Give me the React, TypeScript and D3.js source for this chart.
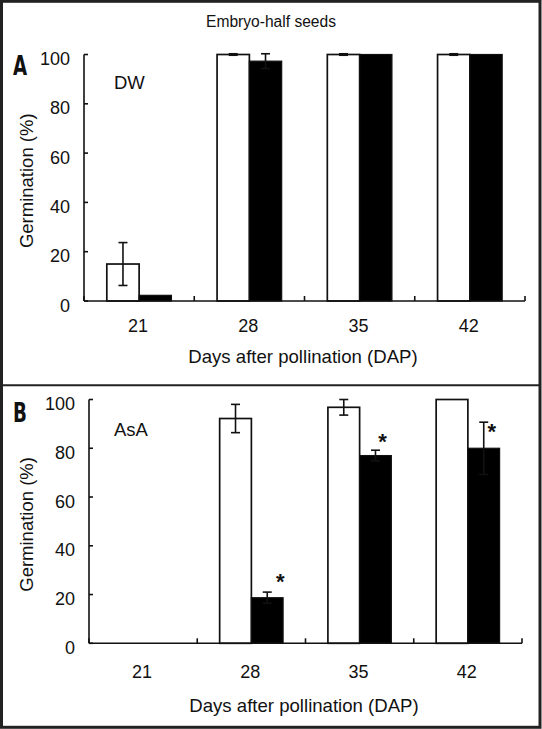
import React from "react";
import * as d3 from "d3";

// ---- data ----
const categories = ["21", "28", "35", "42"];
const yTicks = [0, 20, 40, 60, 80, 100];

const dwOpen = [15, 100, 100, 100];
const dwOpenErr = [8.7, 0.3, 0.3, 0.3];
const dwFilled = [2.3, 97.3, 100, 100];
const dwFilledErr = [0, 3, 0, 0];

const asaOpen = [0, 92.2, 96.8, 100];
const asaOpenErr = [0, 5.8, 3.2, 0];
const asaFilled = [0, 18.7, 77, 80];
const asaFilledErr = [0, 2.3, 2.2, 10.7];
const asaSignificant = [false, true, true, true];
const asaStarLevel = [0, 27.5, 85, 89];

const title = "Embryo-half seeds";
const xTitle = "Days after pollination (DAP)";
const yTitle = "Germination (%)";

const FONT = "'Liberation Sans', Arial, Helvetica, sans-serif";
const INK = "#111";

type PanelProps = {
  letter: string;
  tag: string;
  open: number[];
  openErr: number[];
  filled: number[];
  filledErr: number[];
  sig?: boolean[];
  starLevel?: number[];
  starDx?: number[];
  x0: number;
  x1: number;
  yTop: number;
  yBottom: number;
  tickBase: number;
  xTitleBase: number;
  letterBase: number;
  tagBase: number;
};

function ErrorBar({ cx, y1, y2 }: { cx: number; y1: number; y2: number }) {
  const cap = 4.5;
  return (
    <g stroke={INK} strokeWidth={1.6} fill="none">
      <line x1={cx} x2={cx} y1={y1} y2={y2} />
      <line x1={cx - cap} x2={cx + cap} y1={y1} y2={y1} />
      <line x1={cx - cap} x2={cx + cap} y1={y2} y2={y2} />
    </g>
  );
}

function Panel(p: PanelProps) {
  const x = d3.scaleBand<string>().domain(categories).range([p.x0, p.x1]).padding(0);
  const y = d3.scaleLinear().domain([0, 100]).range([p.yBottom, p.yTop]);
  const bw = x.bandwidth() * 0.293;
  const boundaries = [...categories.map((c) => x(c) as number), p.x1];
  const plotMidX = (p.x0 + p.x1) / 2;
  const plotMidY = (p.yTop + p.yBottom) / 2 + 3;

  return (
    <g>
      {/* bars */}
      {categories.map((c, i) => {
        const cx = (x(c) as number) + x.bandwidth() / 2;
        const els: React.ReactNode[] = [];
        if (p.open[i] > 0) {
          els.push(
            <rect
              key="o"
              x={cx - bw}
              y={y(p.open[i])}
              width={bw}
              height={y(0) - y(p.open[i])}
              fill="#fff"
              stroke={INK}
              strokeWidth={1.7}
            />
          );
        }
        if (p.filled[i] > 0) {
          els.push(
            <rect
              key="f"
              x={cx}
              y={y(p.filled[i])}
              width={bw}
              height={y(0) - y(p.filled[i])}
              fill="#000"
              stroke={INK}
              strokeWidth={1.2}
            />
          );
        }
        if (p.openErr[i] > 0) {
          els.push(
            <ErrorBar
              key="oe"
              cx={cx - bw / 2}
              y1={y(p.open[i] + p.openErr[i])}
              y2={y(p.open[i] - p.openErr[i])}
            />
          );
        }
        if (p.filledErr[i] > 0) {
          els.push(
            <ErrorBar
              key="fe"
              cx={cx + bw / 2}
              y1={y(p.filled[i] + p.filledErr[i])}
              y2={y(p.filled[i] - p.filledErr[i])}
            />
          );
        }
        if (p.sig && p.sig[i] && p.starLevel) {
          els.push(
            <text
              key="s"
              x={cx + bw / 2 + (p.starDx ? p.starDx[i] : 8)}
              y={y(p.starLevel[i]) + 12.5}
              textAnchor="middle"
              fontFamily={FONT}
              fontWeight="bold"
              fontSize={22}
              fill={INK}
            >
              *
            </text>
          );
        }
        return <g key={c}>{els}</g>;
      })}

      {/* axes */}
      <g stroke={INK} strokeWidth={1.6} fill="none">
        <line x1={p.x0} x2={p.x1} y1={y(0)} y2={y(0)} />
        <line x1={p.x0} x2={p.x0} y1={y(0)} y2={y(100)} />
        {yTicks.map((t) => (
          <line key={t} x1={p.x0} x2={p.x0 + 4} y1={y(t)} y2={y(t)} />
        ))}
        {boundaries.map((bx, i) => (
          <line key={i} x1={bx} x2={bx} y1={y(0)} y2={y(0) - 5} />
        ))}
      </g>

      {/* y tick labels */}
      {yTicks.map((t) => (
        <text
          key={t}
          x={p.x0 - 14}
          y={y(t) + 10.5}
          textAnchor="end"
          fontFamily={FONT}
          fontSize={18}
          fill={INK}
        >
          {t}
        </text>
      ))}

      {/* x tick labels */}
      {categories.map((c) => (
        <text
          key={c}
          x={(x(c) as number) + x.bandwidth() / 2 - 1}
          y={p.tickBase}
          textAnchor="middle"
          fontFamily={FONT}
          fontSize={18}
          fill={INK}
        >
          {c}
        </text>
      ))}

      {/* axis titles */}
      <text
        x={plotMidX - 1.5}
        y={p.xTitleBase}
        textAnchor="middle"
        fontFamily={FONT}
        fontSize={18.6}
        fill={INK}
      >
        {xTitle}
      </text>
      <text
        transform={`translate(33,${plotMidY}) rotate(-90)`}
        textAnchor="middle"
        fontFamily={FONT}
        fontSize={18.5}
        fill={INK}
      >
        {yTitle}
      </text>

      {/* panel letter */}
      <text
        transform={`translate(13,${p.letterBase}) scale(0.78,1)`}
        fontFamily="'Liberation Sans Narrow', 'DejaVu Sans Condensed', sans-serif"
        fontWeight="bold"
        fontSize={26}
        fill={INK}
      >
        {p.letter}
      </text>

      {/* treatment tag */}
      <text x={114} y={p.tagBase} fontFamily={FONT} fontSize={18.5} fill={INK}>
        {p.tag}
      </text>
    </g>
  );
}

export default function App() {
  const W = 542;
  const H = 729;
  return (
    <svg
      width={W}
      height={H}
      viewBox={`0 0 ${W} ${H}`}
      style={{ position: "absolute", left: 0, top: 0, background: "#fff" }}
    >
      <rect x={0} y={0} width={W} height={H} fill="#fff" />
      {/* frame */}
      <rect x={1.5} y={1.3} width={538.5} height={726} fill="none" stroke="#222" strokeWidth={3} />
      <line x1={0} x2={541} y1={385.3} y2={385.3} stroke="#222" strokeWidth={2} />

      <text x={271} y={26.5} textAnchor="middle" fontFamily={FONT} fontSize={15.6} fill={INK}>
        {title}
      </text>

      <Panel
        letter="A"
        tag="DW"
        open={dwOpen}
        openErr={dwOpenErr}
        filled={dwFilled}
        filledErr={dwFilledErr}
        x0={84}
        x1={525}
        yTop={54.5}
        yBottom={301}
        tickBase={331.5}
        xTitleBase={362.5}
        letterBase={75}
        tagBase={89}
      />
      <Panel
        letter="B"
        tag="AsA"
        open={asaOpen}
        openErr={asaOpenErr}
        filled={asaFilled}
        filledErr={asaFilledErr}
        sig={asaSignificant}
        starLevel={asaStarLevel}
        starDx={[0, 13, 7, 8]}
        x0={89}
        x1={522}
        yTop={399.5}
        yBottom={643.3}
        tickBase={678}
        xTitleBase={712}
        letterBase={422}
        tagBase={436}
      />
    </svg>
  );
}
